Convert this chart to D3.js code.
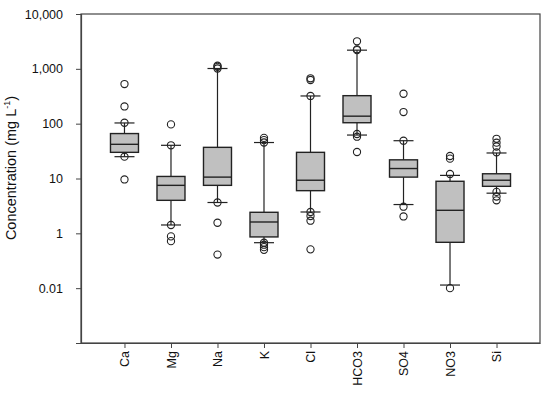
<!DOCTYPE html>
<html>
<head>
<meta charset="utf-8">
<script src="https://cdn.jsdelivr.net/npm/d3@7"></script>
<style>
  body { margin: 0; background: #fff; }
  text { font-family: "Liberation Sans", Arial, sans-serif; }
</style>
</head>
<body>
<script>
"use strict";

let categories = ["Ca", "Mg", "Na", "K", "Cl", "HCO3", "SO4", "NO3", "Si"];
let lowerWhisker = [25, 1.42, 3.65, 0.675, 2.45, 62, 3.35, 0.114, 5.4];
let q1 = [30, 4.0, 7.5, 0.86, 6.0, 104, 10.6, 0.686, 7.2];
let median = [42, 7.5, 10.6, 1.61, 9.3, 137, 15.2, 2.63, 9.3];
let q3 = [66, 10.9, 37, 2.42, 30, 324, 21.9, 8.9, 12.2];
let upperWhisker = [103, 40.3, 1014, 45.3, 320, 2190, 48.9, 11.4, 29.2];
let outliers = [
  [528, 206, 104, 25, 9.6],
  [97, 40.3, 1.42, 0.88, 0.72],
  [1140, 1090, 1014, 3.65, 1.56, 0.41],
  [55, 50, 45.3, 0.675, 0.62, 0.56, 0.5],
  [672, 626, 320, 2.45, 2.07, 1.7, 0.51],
  [3180, 2270, 2190, 64.8, 57.8, 30.4],
  [351, 163, 48.9, 3.06, 2.03],
  [25.7, 23, 12.1, 0.1],
  [53, 45, 38.3, 30, 5.7, 4.7, 4.0]
];
let yTicks = [10000, 1000, 100, 10, 1, 0.1, 0.01];
let yTickLabels = ["10,000", "1,000", "100", "10", "1", "0.01", ""];

let width = 550;
let height = 394;
let plotLeft = 81, plotRight = 540, plotTop = 14, plotBottom = 343;

let svg = d3.select("body").append("svg").attr("width", width).attr("height", height);

let x = d3.scalePoint()
  .domain(categories)
  .range([plotLeft, plotRight])
  .padding(0.935);

let y = d3.scaleLog()
  .domain([0.01, 10000])
  .range([plotBottom, plotTop]);

let boxes = categories.map((c, i) => ({
  cat: c, lo: lowerWhisker[i], q1: q1[i], med: median[i], q3: q3[i], hi: upperWhisker[i], out: outliers[i]
}));

// frame
svg.append("rect")
  .attr("x", plotLeft).attr("y", plotTop)
  .attr("width", plotRight - plotLeft).attr("height", plotBottom - plotTop)
  .attr("fill", "none").attr("stroke", "#444").attr("stroke-width", 1.2);

let yAxis = svg.append("g")
  .attr("transform", "translate(" + plotLeft + ",0)")
  .call(d3.axisLeft(y).tickValues(yTicks).tickSize(5).tickPadding(13)
    .tickFormat((d, i) => yTickLabels[i]));
yAxis.select(".domain").attr("stroke", "#444").attr("stroke-width", 1.2);
yAxis.selectAll(".tick line").attr("stroke", "#444");
yAxis.selectAll("text").attr("font-size", 12.5).attr("fill", "#111")
  .attr("font-family", "Liberation Sans, Arial, sans-serif");

let xAxis = svg.append("g")
  .attr("transform", "translate(0," + plotBottom + ")")
  .call(d3.axisBottom(x).tickSize(5).tickSizeOuter(0));
xAxis.select(".domain").attr("stroke", "#444").attr("stroke-width", 1.2);
xAxis.selectAll(".tick line").attr("stroke", "#444");
xAxis.selectAll("text")
  .attr("font-size", 12.5).attr("fill", "#111")
  .attr("font-family", "Liberation Sans, Arial, sans-serif")
  .attr("transform", "rotate(-90)")
  .attr("text-anchor", "end")
  .attr("x", -8).attr("y", 0).attr("dy", "0.35em");

// y title
let title = svg.append("text")
  .attr("transform", "translate(16," + 168 + ") rotate(-90)")
  .attr("text-anchor", "middle")
  .attr("font-size", 14.5)
  .attr("fill", "#111");
title.append("tspan").text("Concentration (mg L");
title.append("tspan").attr("font-size", 9).attr("dy", -6).text("-1");
title.append("tspan").attr("dy", 6).text(")");

let bw = 28, cw = 20;
let g = svg.append("g");

let box = g.selectAll(".box")
  .data(boxes)
  .enter()
  .append("g")
  .attr("class", "box");

box.append("line")
  .attr("x1", d => x(d.cat)).attr("x2", d => x(d.cat))
  .attr("y1", d => y(d.hi)).attr("y2", d => y(d.q3))
  .attr("stroke", "#222").attr("stroke-width", 1.2);
box.append("line")
  .attr("x1", d => x(d.cat)).attr("x2", d => x(d.cat))
  .attr("y1", d => y(d.q1)).attr("y2", d => y(d.lo))
  .attr("stroke", "#222").attr("stroke-width", 1.2);
box.append("line")
  .attr("x1", d => x(d.cat) - cw / 2).attr("x2", d => x(d.cat) + cw / 2)
  .attr("y1", d => y(d.hi)).attr("y2", d => y(d.hi))
  .attr("stroke", "#222").attr("stroke-width", 1.2);
box.append("line")
  .attr("x1", d => x(d.cat) - cw / 2).attr("x2", d => x(d.cat) + cw / 2)
  .attr("y1", d => y(d.lo)).attr("y2", d => y(d.lo))
  .attr("stroke", "#222").attr("stroke-width", 1.2);
box.append("rect")
  .attr("x", d => x(d.cat) - bw / 2)
  .attr("y", d => y(d.q3))
  .attr("width", bw)
  .attr("height", d => y(d.q1) - y(d.q3))
  .attr("fill", "#c0c0c0")
  .attr("stroke", "#222").attr("stroke-width", 1.4);
box.append("line")
  .attr("x1", d => x(d.cat) - bw / 2).attr("x2", d => x(d.cat) + bw / 2)
  .attr("y1", d => y(d.med)).attr("y2", d => y(d.med))
  .attr("stroke", "#222").attr("stroke-width", 1.4);

box.selectAll("circle")
  .data(d => d.out.map(v => ({ cat: d.cat, v: v })))
  .enter()
  .append("circle")
  .attr("cx", d => x(d.cat))
  .attr("cy", d => y(d.v))
  .attr("r", 3.6)
  .attr("fill", "none")
  .attr("stroke", "#222")
  .attr("stroke-width", 1.1);
</script>
</body>
</html>
